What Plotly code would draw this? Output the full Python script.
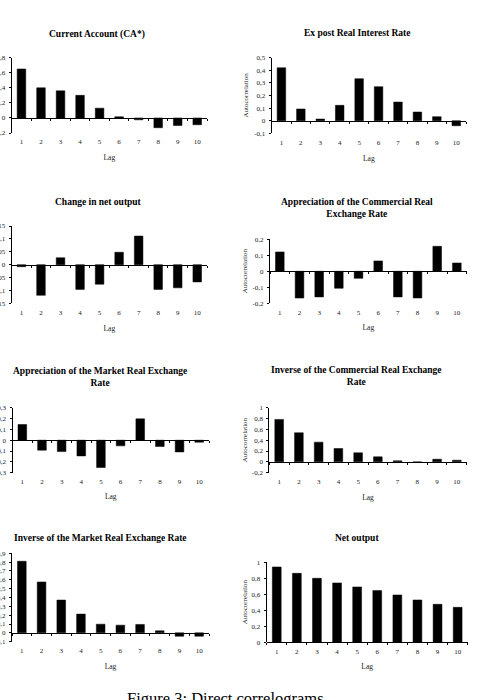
import plotly.graph_objects as go

W, H = 478, 700

lags = [1, 2, 3, 4, 5, 6, 7, 8, 9, 10]

current_account = [0.65, 0.40, 0.36, 0.30, 0.13, 0.015, -0.025, -0.13, -0.10, -0.09]
real_interest = [0.42, 0.093, 0.013, 0.122, 0.333, 0.27, 0.148, 0.069, 0.032, -0.04]
change_net_output = [-0.008, -0.119, 0.027, -0.096, -0.076, 0.048, 0.111, -0.096, -0.09, -0.067]
appr_commercial = [0.121, -0.167, -0.16, -0.106, -0.044, 0.065, -0.16, -0.167, 0.156, 0.052]
appr_market = [0.145, -0.092, -0.105, -0.145, -0.252, -0.052, 0.197, -0.058, -0.108, -0.018]
inv_commercial = [0.784, 0.537, 0.364, 0.247, 0.167, 0.093, 0.019, -0.012, 0.049, 0.031]
inv_market = [0.81, 0.576, 0.371, 0.212, 0.098, 0.087, 0.095, 0.023, -0.038, -0.038]
net_output = [0.942, 0.862, 0.80, 0.742, 0.692, 0.646, 0.592, 0.529, 0.475, 0.437]

titles = [
    "Current Account (CA*)",
    "Ex post Real Interest Rate",
    "Change in net output",
    "Appreciation of the Commercial Real<br>Exchange Rate",
    "Appreciation of the Market Real Exchange<br>Rate",
    "Inverse of the Commercial Real Exchange<br>Rate",
    "Inverse of the Market Real Exchange Rate",
    "Net output",
]
series = [current_account, real_interest, change_net_output, appr_commercial,
          appr_market, inv_commercial, inv_market, net_output]
y_ranges = [(-0.2, 0.8), (-0.1, 0.5), (-0.15, 0.15), (-0.2, 0.2),
            (-0.3, 0.3), (-0.2, 1.0), (-0.1, 0.9), (0.0, 1.0)]
y_steps = [0.2, 0.1, 0.05, 0.1, 0.1, 0.2, 0.1, 0.2]
y_title = "Autocorrelation"
x_title = "Lag"
caption = "Figure 3: Direct correlograms"

# layout in pixels: plot area (x0, x1, ytop, ybottom), title centre (x, y)
boxes = [
    (11.7, 207, 57.7, 133.0), (271.7, 466, 57.7, 133.3),
    (11.7, 207, 226.0, 303.3), (270.0, 466.7, 239.3, 303.3),
    (12.5, 209, 407.7, 472.7), (269.3, 466.7, 407.7, 472.7),
    (12.0, 209, 553.3, 641.7), (266.7, 467.7, 562.3, 642.3),
]
title_pos = [(97, 34), (356.7, 33), (98, 202), (356.7, 208.5),
             (100, 377), (356.7, 376.5), (100, 538.3), (356.7, 538.3)]

SERIF = "Liberation Serif, Times New Roman, serif"


def fmt(v):
    if abs(v) < 1e-9:
        return "0"
    s = f"{v:.2f}".rstrip("0").rstrip(".")
    return s.replace(".", ",")


def px(x):
    return x / W


def py(y):
    return 1 - y / H


fig = go.Figure()
layout = dict(
    template="none",
    width=W, height=H, margin=dict(l=0, r=0, t=0, b=0, pad=0, autoexpand=False),
    paper_bgcolor="white", plot_bgcolor="white", showlegend=False,
    bargap=0.56, font=dict(family=SERIF, color="#111"),
)
annotations = []

for i in range(8):
    k = "" if i == 0 else str(i + 1)
    x0, x1, yt, yb = boxes[i]
    ymin, ymax = y_ranges[i]
    step = y_steps[i]
    n = int(round((ymax - ymin) / step))
    tv = [round(ymin + j * step, 4) for j in range(n + 1)]
    fig.add_trace(go.Bar(
        x=lags, y=series[i], xaxis="x" + k, yaxis="y" + k,
        marker=dict(color="black", line=dict(color="black", width=0.5)),
        hoverinfo="x+y",
    ))
    dom_y = [py(yb), py(yt)]
    zero_frac = (0 - ymin) / (ymax - ymin)
    zero_pos = dom_y[0] + zero_frac * (dom_y[1] - dom_y[0])
    zero_to_bottom = zero_frac * (yb - yt)
    layout["xaxis" + k] = dict(
        domain=[px(x0), px(x1)], anchor="free", position=zero_pos,
        automargin=False,
        range=[0.5, 10.5], showline=True, linecolor="black", linewidth=1,
        tickvals=lags, ticktext=[str(v) for v in lags], ticks="",
        ticklabelstandoff=int(round(zero_to_bottom + 2)),
        tickfont=dict(family=SERIF, size=7, color="#222"),
        minor=dict(tickvals=[v + 0.5 for v in [0] + lags], ticks="outside",
                   ticklen=2, tickcolor="black", tickwidth=1, showgrid=False),
        showgrid=False, zeroline=False, fixedrange=True,
        title=dict(text=x_title, font=dict(family=SERIF, size=7.5, color="#222"),
                   standoff=9),
    )
    layout["yaxis" + k] = dict(
        domain=dom_y, anchor="x" + k, range=[ymin, ymax],
        automargin=False,
        showline=True, linecolor="black", linewidth=1,
        ticks="outside", ticklen=2, tickcolor="black",
        ticklabelstandoff=2,
        tickvals=tv, ticktext=[fmt(v) for v in tv],
        tickfont=dict(family=SERIF, size=7, color="#222"),
        showgrid=False, zeroline=False, fixedrange=True,
    )
    tx, ty = title_pos[i]
    annotations.append(dict(
        text="<b>" + titles[i].replace("<br>", "</b><br><b>") + "</b>",
        x=px(tx), y=py(ty), xref="paper", yref="paper",
        xanchor="center", yanchor="middle", showarrow=False,
        font=dict(family=SERIF, size=9.5, color="black"),
    ))
    if i % 2 == 1:
        annotations.append(dict(
            text=y_title, x=px(245), y=py((yt + yb) / 2), xref="paper", yref="paper",
            xanchor="center", yanchor="middle", showarrow=False, textangle=-90,
            font=dict(family=SERIF, size=7, color="#222"),
        ))

annotations.append(dict(
    text=caption, x=px(225), y=py(698), xref="paper", yref="paper",
    xanchor="center", yanchor="middle", showarrow=False,
    font=dict(family=SERIF, size=16.5, color="black"),
))
layout["annotations"] = annotations
fig.update_layout(**layout)
fig.write_html("out.html")
